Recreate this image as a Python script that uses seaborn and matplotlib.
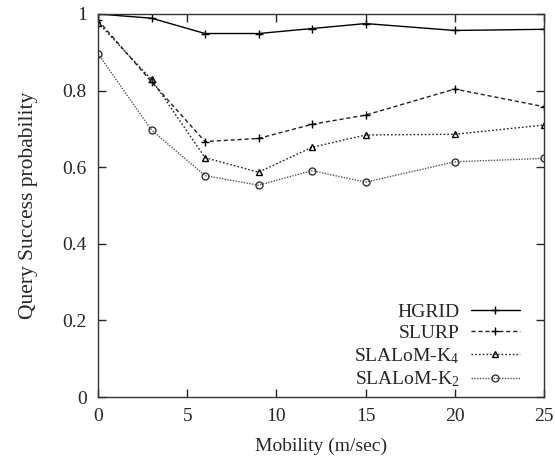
import matplotlib
matplotlib.use("Agg")
import matplotlib.pyplot as plt
import seaborn as sns

# mobility values (m/sec)
mobility = [0, 3, 6, 9, 12, 15, 20, 25]

hgrid = [1.0, 0.989, 0.949, 0.949, 0.962, 0.975, 0.957, 0.960]
slurp = [0.984, 0.823, 0.667, 0.675, 0.712, 0.736, 0.804, 0.758]
slalom_k4 = [0.977, 0.829, 0.625, 0.587, 0.652, 0.684, 0.686, 0.710]
slalom_k2 = [0.896, 0.697, 0.578, 0.553, 0.591, 0.561, 0.614, 0.623]

x_ticks = [0, 5, 10, 15, 20, 25]
y_ticks = [0, 0.2, 0.4, 0.6, 0.8, 1]
y_ticklabels = ["0", "0.2", "0.4", "0.6", "0.8", "1"]

sns.set_style("ticks")
plt.rcParams["font.family"] = ["Liberation Serif", "DejaVu Serif"]
plt.rcParams["mathtext.fontset"] = "custom"
plt.rcParams["mathtext.rm"] = "Liberation Serif"
plt.rcParams["mathtext.it"] = "Liberation Serif"

fig = plt.figure(figsize=(5.55, 4.71), dpi=100)
ax = fig.add_axes([0.1766, 0.1571, 0.8034, 0.8132])

sns.lineplot(x=mobility, y=hgrid, ax=ax, color="black", linewidth=1.0,
             marker="+", markersize=6, markeredgewidth=1.0,
             markeredgecolor="black", label="HGRID")
sns.lineplot(x=mobility, y=slurp, ax=ax, color="#222222", linewidth=1.0,
             linestyle=(0, (3, 2)), marker="+", markersize=6, markeredgewidth=1.0,
             markeredgecolor="black", label="SLURP")
sns.lineplot(x=mobility, y=slalom_k4, ax=ax, color="#222222", linewidth=1.0,
             linestyle=(0, (1.2, 1.5)), marker="^", markersize=5, markeredgewidth=1.0,
             markerfacecolor="none", markeredgecolor="black", label="SLALoM-K$_4$")
sns.lineplot(x=mobility, y=slalom_k2, ax=ax, color="#555555", linewidth=1.0,
             linestyle=(0, (1, 1)), marker="o", markersize=5, markeredgewidth=1.0,
             markerfacecolor="none", markeredgecolor="#333333", label="SLALoM-K$_2$")

ax.set_xlim(0, 25)
ax.set_ylim(0, 1)
ax.set_xticks(x_ticks)
ax.set_yticks(y_ticks)
ax.set_yticklabels(y_ticklabels)
ax.tick_params(direction="in", top=True, right=True, length=6, width=1,
               labelsize=14, pad=8)
for s in ax.spines.values():
    s.set_linewidth(1.0)
    s.set_color("#333333")

ax.set_xlabel("Mobility (m/sec)", fontsize=14, labelpad=9)
ax.set_ylabel("Query Success probability", fontsize=15.5, labelpad=18)

leg = ax.legend(loc="lower right", frameon=False, markerfirst=False,
                fontsize=14, handlelength=2.5, handletextpad=0.6,
                labelspacing=0.2, borderaxespad=0.0, bbox_to_anchor=(0.963, 0.0))
for t in leg.get_texts():
    t.set_ha("right")
leg._legend_box.align = "right"

fig.savefig("out.png", dpi=100)
